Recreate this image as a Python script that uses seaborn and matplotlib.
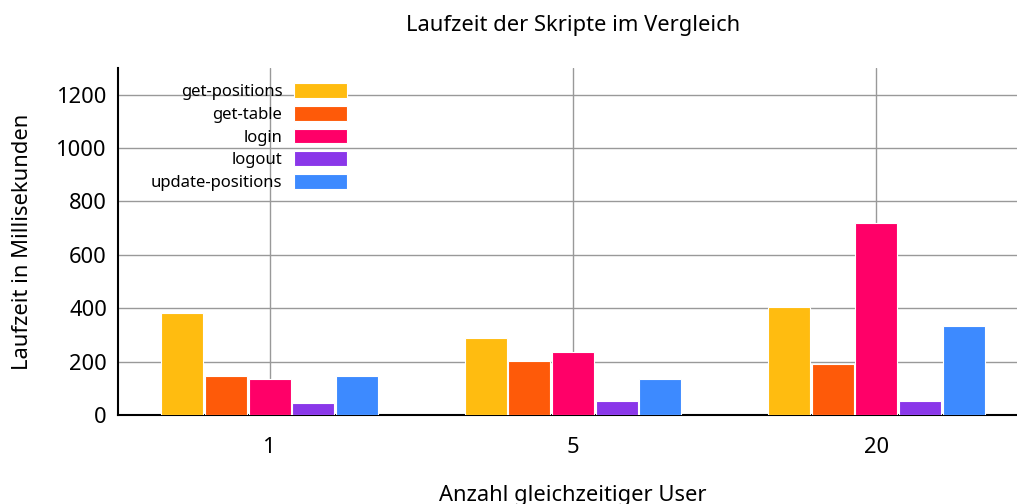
import pandas as pd
import matplotlib.pyplot as plt
import seaborn as sns

sns.set_style("white")
plt.rcParams['font.family'] = ['Noto Sans', 'DejaVu Sans']
plt.rcParams['text.color'] = 'black'
plt.rcParams['axes.labelcolor'] = 'black'
plt.rcParams['xtick.color'] = 'black'
plt.rcParams['ytick.color'] = 'black'

# Data
users = ["1", "5", "20"]
scripts = ["get-positions", "get-table", "login", "logout", "update-positions"]
get_positions = [381, 288, 403]
get_table = [145, 202, 191]
login = [134, 236, 719]
logout = [45, 52, 52]
update_positions = [146, 135, 333]

colors = ["#FFBC10", "#FE5A09", "#FF0068", "#8A37E9", "#3D8AFF"]

df = pd.DataFrame({
    "user": users * 5,
    "script": [s for s in scripts for _ in users],
    "ms": get_positions + get_table + login + logout + update_positions,
})

fig = plt.figure(figsize=(10.17, 5.04), dpi=100)
ax = fig.add_axes([118 / 1017, (504 - 415) / 504, 910 / 1017, 347 / 504])

sns.barplot(data=df, x="user", y="ms", hue="script", order=users, hue_order=scripts,
            palette=colors, saturation=1, width=0.72, gap=0.04, edgecolor="white",
            linewidth=0.8, ax=ax, zorder=3)

ax.set_xlim(-0.5, 2.5)
ax.set_ylim(0, 1300)
ax.set_yticks([0, 200, 400, 600, 800, 1000, 1200])
ax.grid(True, color="#999999", linewidth=1, zorder=0)
ax.set_axisbelow(True)

for s in ["top", "right"]:
    ax.spines[s].set_visible(False)
ax.spines["left"].set_color("black")
ax.spines["bottom"].set_color("black")
ax.spines["left"].set_linewidth(1.5)
ax.spines["bottom"].set_linewidth(1.5)
ax.tick_params(axis="both", length=0, labelsize=15.8, pad=8)
ax.tick_params(axis="x", pad=16)

ax.set_title("Laufzeit der Skripte im Vergleich", fontsize=15.8, pad=27)
ax.set_xlabel("Anzahl gleichzeitiger User", fontsize=15.8, labelpad=19)
ax.set_ylabel("Laufzeit in Millisekunden", fontsize=15.8, labelpad=17)

leg = ax.legend(loc="upper left", bbox_to_anchor=(0.025, 0.985), frameon=False,
                markerfirst=False, fontsize=12, handlelength=3.2, handleheight=1.0,
                labelspacing=0.33, borderaxespad=0.2, handletextpad=0.7)

fig.savefig("out.png", dpi=100)
